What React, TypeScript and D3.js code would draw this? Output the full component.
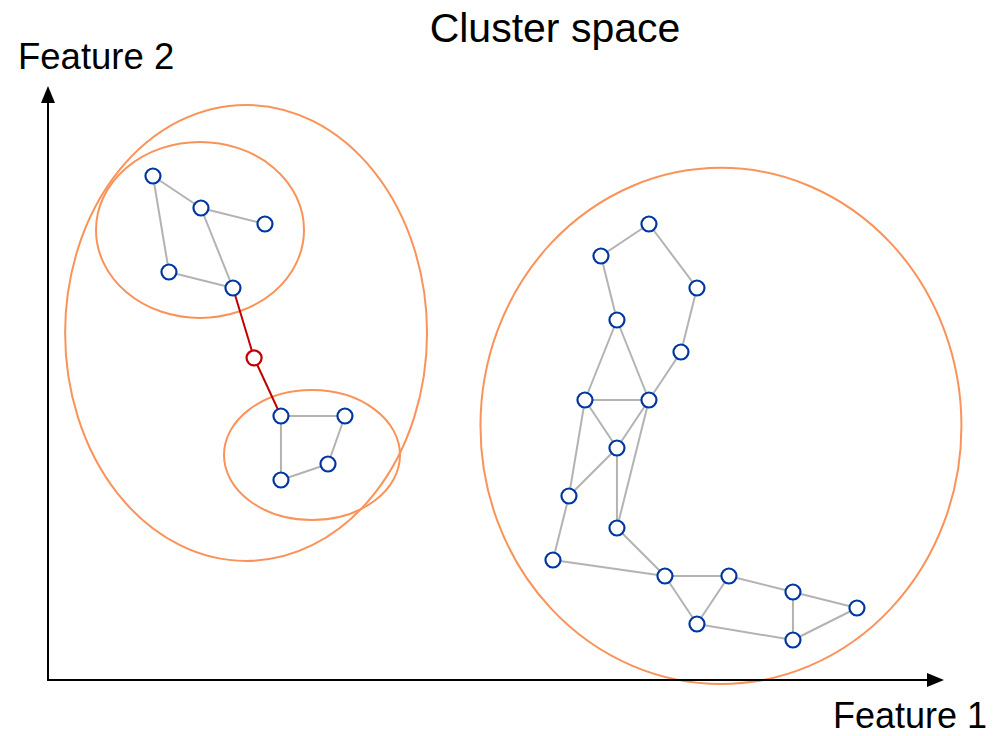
import React from "react";
import * as d3 from "d3";

const W = 1002;
const H = 736;

// Nodes in feature units
const nodeIds = ["A1","A2","A3","A4","A5","R","B1","B2","B3","B4",
  "C1","C2","C3","C4","C5","C6","C7","C8","C9","C10","C11","C12","C13","C14","C15","C16","C17"];
const nodeX = [6.56, 9.56, 13.56, 7.56, 11.56, 12.88, 14.56, 18.56, 17.5, 14.56,
  37.56, 34.56, 40.56, 35.56, 39.56, 33.56, 37.56, 35.56, 32.56, 35.56, 31.56, 38.56, 42.56, 46.56, 50.56, 40.56, 46.56];
const nodeY = [31.5, 29.5, 28.5, 25.5, 24.5, 20.13, 16.5, 16.5, 13.5, 12.5,
  28.5, 26.5, 24.5, 22.5, 20.5, 17.5, 17.5, 14.5, 11.5, 9.5, 7.5, 6.5, 6.5, 5.5, 4.5, 3.5, 2.5];

const grayEdges: [string, string][] = [
  ["A1","A2"],["A2","A3"],["A1","A4"],["A4","A5"],["A2","A5"],
  ["B1","B2"],["B2","B3"],["B3","B4"],["B4","B1"],
  ["C1","C2"],["C2","C4"],["C1","C3"],["C3","C5"],["C5","C7"],["C4","C6"],["C4","C7"],
  ["C6","C7"],["C6","C8"],["C7","C8"],["C8","C9"],["C6","C9"],["C8","C10"],["C7","C10"],
  ["C9","C11"],["C11","C12"],["C10","C12"],["C12","C13"],["C12","C16"],["C16","C13"],
  ["C13","C14"],["C14","C17"],["C14","C15"],["C15","C17"],["C16","C17"],
];
const redEdges: [string, string][] = [["A5","R"],["R","B1"]];

// Cluster ellipses: center x, center y, radius x, radius y (feature units)
const ellCx = [12.38, 9.5, 16.5, 42.06];
const ellCy = [21.69, 28.13, 14.06, 15.88];
const ellRx = [11.31, 6.5, 5.5, 15.03];
const ellRy = [14.25, 5.5, 4.06, 16.13];

const title = "Cluster space";
const xLabel = "Feature 1";
const yLabel = "Feature 2";

export default function App() {
  const x0 = 48, y0 = 680;
  const x = d3.scaleLinear().domain([0, 56]).range([x0, x0 + 56 * 16]);
  const y = d3.scaleLinear().domain([0, 37]).range([y0, y0 - 37 * 16]);
  const pos: Record<string, [number, number]> = {};
  nodeIds.forEach((id, i) => { pos[id] = [x(nodeX[i]), y(nodeY[i])]; });
  const sx = (v: number) => x(v) - x(0);
  const sy = (v: number) => y(0) - y(v);
  const orange = "#f9935a";
  const font = "'Liberation Sans', Arial, sans-serif";
  const xEnd = 944, yEnd = 86;

  return (
    <svg width={W} height={H} style={{ position: "absolute", left: 0, top: 0, display: "block" }}>
      <rect width={W} height={H} fill="#fff" />
      <text x={555} y={42} fontSize={41} fontFamily={font} textAnchor="middle" fill="#000">{title}</text>
      <text x={18} y={69} fontSize={36.5} fontFamily={font} fill="#000">{yLabel}</text>
      <text x={987} y={728} fontSize={36} fontFamily={font} textAnchor="end" fill="#000">{xLabel}</text>

      {ellCx.map((c, i) => (
        <ellipse key={i} cx={x(c)} cy={y(ellCy[i])} rx={sx(ellRx[i])} ry={sy(ellRy[i])}
          fill="none" stroke={orange} strokeWidth={2} />
      ))}

      {/* axes */}
      <line x1={x0} y1={y0} x2={x0} y2={yEnd + 14} stroke="#000" strokeWidth={2} />
      <path d={`M${x0},${yEnd} L${x0 - 7},${yEnd + 17} L${x0 + 7},${yEnd + 17} Z`} fill="#000" />
      <line x1={x0 - 1} y1={y0} x2={xEnd - 14} y2={y0} stroke="#000" strokeWidth={2} />
      <path d={`M${xEnd},${y0} L${xEnd - 17},${y0 - 7} L${xEnd - 17},${y0 + 7} Z`} fill="#000" />

      {grayEdges.map(([a, b], i) => (
        <line key={"g" + i} x1={pos[a][0]} y1={pos[a][1]} x2={pos[b][0]} y2={pos[b][1]}
          stroke="#b3b3b3" strokeWidth={2} />
      ))}
      {redEdges.map(([a, b], i) => (
        <line key={"r" + i} x1={pos[a][0]} y1={pos[a][1]} x2={pos[b][0]} y2={pos[b][1]}
          stroke="#c00000" strokeWidth={2} />
      ))}
      {nodeIds.map((id) => (
        <circle key={id} cx={pos[id][0]} cy={pos[id][1]} r={7.5} fill="#fff"
          stroke={id === "R" ? "#c00000" : "#0036a0"} strokeWidth={2.2} />
      ))}
    </svg>
  );
}
